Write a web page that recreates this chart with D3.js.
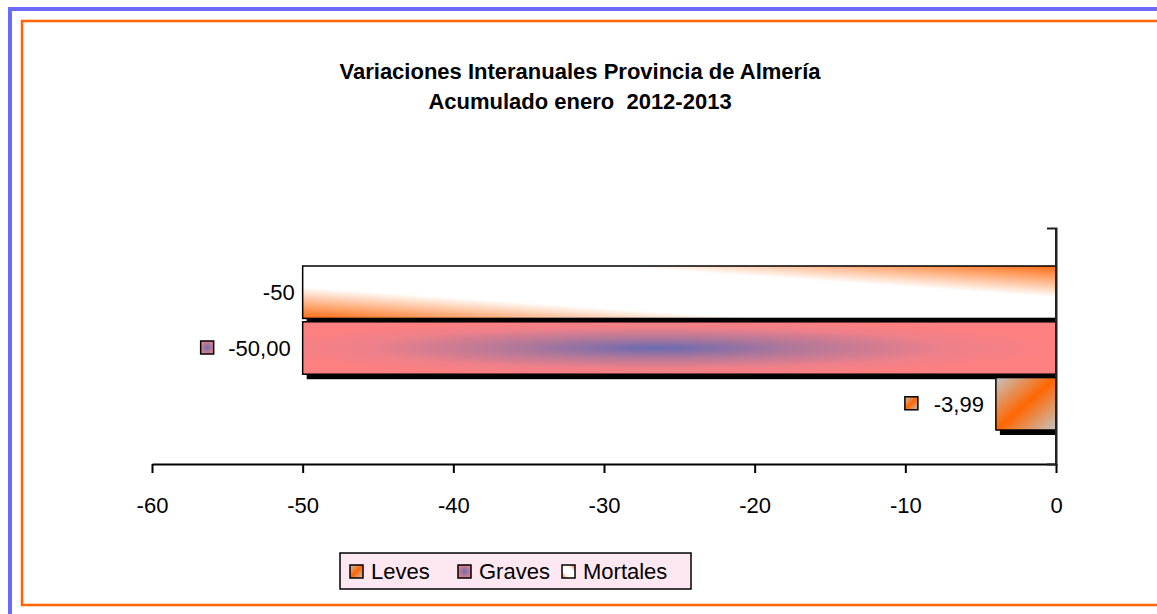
<!DOCTYPE html>
<html>
<head>
<meta charset="utf-8">
<title>Variaciones Interanuales Provincia de Almería</title>
<script src="https://d3js.org/d3.v7.min.js"></script>
<style>
  body { margin: 0; background: #fff; }
  text { font-family: Arial, "Liberation Sans", sans-serif; fill: #000; }
</style>
</head>
<body>
<div id="chart"></div>
<script>
// data
var series = ["Mortales", "Graves", "Leves"];
var values = [-50, -50.00, -3.99];
var valueLabels = ["-50", "-50,00", "-3,99"];
var labelKeys = [false, true, true];
var legendOrder = ["Leves", "Graves", "Mortales"];
var xTicks = [-60, -50, -40, -30, -20, -10, 0];
var titleLines = ["Variaciones Interanuales Provincia de Almería", "Acumulado enero  2012-2013"];

var width = 1157, height = 614;

var svg = d3.select("#chart").append("svg")
    .attr("width", width)
    .attr("height", height);

// gradients for each series
var defs = svg.append("defs");

var gLeves = defs.append("linearGradient").attr("id", "grad-Leves")
    .attr("x1", 0).attr("y1", 0).attr("x2", 1).attr("y2", 1);
gLeves.append("stop").attr("offset", 0).attr("stop-color", "#c4c4c4");
gLeves.append("stop").attr("offset", 0.5).attr("stop-color", "#ff6600");
gLeves.append("stop").attr("offset", 1).attr("stop-color", "#c4c4c4");

var gGraves = defs.append("radialGradient").attr("id", "grad-Graves")
    .attr("cx", 0.47).attr("cy", 0.5).attr("r", 0.55);
gGraves.append("stop").attr("offset", 0).attr("stop-color", "#6a6ab2");
gGraves.append("stop").attr("offset", 0.35).attr("stop-color", "#b47898");
gGraves.append("stop").attr("offset", 0.7).attr("stop-color", "#ee808a");
gGraves.append("stop").attr("offset", 1).attr("stop-color", "#ff8080");

var gKeyGraves = defs.append("radialGradient").attr("id", "grad-key-Graves")
    .attr("cx", 0.5).attr("cy", 0.5).attr("r", 0.6);
gKeyGraves.append("stop").attr("offset", 0).attr("stop-color", "#7070b0");
gKeyGraves.append("stop").attr("offset", 1).attr("stop-color", "#f08088");

var gMort = defs.append("linearGradient").attr("id", "grad-Mortales")
    .attr("x1", 0).attr("y1", 1).attr("x2", 1).attr("y2", 0);
gMort.append("stop").attr("offset", 0).attr("stop-color", "#ff6a10");
gMort.append("stop").attr("offset", 0.3).attr("stop-color", "#ffffff");
gMort.append("stop").attr("offset", 0.7).attr("stop-color", "#ffffff");
gMort.append("stop").attr("offset", 1).attr("stop-color", "#ff6a10");

function fillFor(s, key) {
  if (key && s == "Graves") return "url(#grad-key-Graves)";
  return "url(#grad-" + s + ")";
}

// frames
svg.append("rect")
    .attr("x", 10).attr("y", 9)
    .attr("width", width + 20).attr("height", height + 20)
    .attr("fill", "none").attr("stroke", "#6b6bff").attr("stroke-width", 4);
svg.append("rect")
    .attr("x", 22).attr("y", 21)
    .attr("width", width + 20).attr("height", 584)
    .attr("fill", "none").attr("stroke", "#ff6600").attr("stroke-width", 2.5);

// title
svg.append("g").selectAll("text")
    .data(titleLines)
    .enter().append("text")
    .attr("x", 580)
    .attr("y", function(d, i) { return 79 + i * 30; })
    .attr("text-anchor", "middle")
    .style("font-size", "22px")
    .style("font-weight", "bold")
    .style("white-space", "pre")
    .text(function(d) { return d; });

// scales
var x = d3.scaleLinear().domain([-60, 0]).range([152, 1056]);
var yCat = d3.scaleBand().domain(["enero"]).range([228, 464]);
var y = d3.scaleBand().domain(series).range([266, 430]).paddingInner(0.06);

// x axis
var xAxis = svg.append("g")
    .attr("transform", "translate(0," + yCat.range()[1] + ")")
    .call(d3.axisBottom(x).tickValues(xTicks).tickSize(9).tickSizeOuter(0).tickPadding(24)
      .tickFormat(function(d) { return String(d); }));
xAxis.select(".domain").attr("stroke", "#000").attr("stroke-width", 2);
xAxis.selectAll(".tick line").attr("stroke", "#000").attr("stroke-width", 2);
xAxis.selectAll(".tick text").style("font-size", "22px").style("font-family", "Arial, 'Liberation Sans', sans-serif").attr("fill", "#000");

// category axis at zero
var yAxis = svg.append("g")
    .attr("transform", "translate(" + x(0) + ",0)")
    .call(d3.axisLeft(yCat).tickValues([]).tickSizeOuter(9));
yAxis.select(".domain").attr("stroke", "#222").attr("stroke-width", 2);

// shadows
svg.append("g").selectAll("rect")
    .data(series)
    .enter().append("rect")
    .attr("x", function(d, i) { return x(values[i]) + 4; })
    .attr("y", function(d) { return y(d) + 5; })
    .attr("width", function(d, i) { return x(0) - x(values[i]) - 4; })
    .attr("height", y.bandwidth())
    .attr("fill", "#000");

// bars
svg.append("g").selectAll("rect")
    .data(series)
    .enter().append("rect")
    .attr("x", function(d, i) { return x(values[i]); })
    .attr("y", function(d) { return y(d); })
    .attr("width", function(d, i) { return x(0) - x(values[i]); })
    .attr("height", y.bandwidth())
    .attr("fill", function(d) { return fillFor(d); })
    .attr("stroke", "#000")
    .attr("stroke-width", 1.5);

// redraw axis line on top
svg.append("line")
    .attr("x1", x(0)).attr("x2", x(0))
    .attr("y1", yCat.range()[0]).attr("y2", yCat.range()[1])
    .attr("stroke", "#222").attr("stroke-width", 2);

// data labels
var labels = svg.append("g").selectAll("g")
    .data(series)
    .enter().append("g");
labels.append("text")
    .attr("x", function(d, i) { return x(values[i]) - (labelKeys[i] ? 12 : 8); })
    .attr("y", function(d) { return y(d) + y.bandwidth() / 2; })
    .attr("dy", "0.36em")
    .attr("text-anchor", "end")
    .style("font-size", "22px")
    .text(function(d, i) { return valueLabels[i]; });
labels.filter(function(d, i) { return labelKeys[i]; })
    .append("rect")
    .attr("x", function(d) { var i = series.indexOf(d); return x(values[i]) - 102; })
    .attr("y", function(d) { return y(d) + y.bandwidth() / 2 - 7; })
    .attr("width", 13).attr("height", 13)
    .attr("fill", function(d) { return fillFor(d, true); })
    .attr("stroke", "#000").attr("stroke-width", 1.5);
labels.filter(function(d) { return d == "Leves"; }).select("rect")
    .attr("x", function(d) { var i = series.indexOf(d); return x(values[i]) - 91; });

// legend
var legend = svg.append("g").attr("transform", "translate(340,553)");
legend.append("rect")
    .attr("width", 351).attr("height", 36)
    .attr("fill", "#fde8f1").attr("stroke", "#000").attr("stroke-width", 1.5);
var legendX = [10, 118, 222];
var items = legend.selectAll("g.item")
    .data(legendOrder)
    .enter().append("g").attr("class", "item")
    .attr("transform", function(d, i) { return "translate(" + legendX[i] + ",0)"; });
items.append("rect")
    .attr("x", 0).attr("y", 12).attr("width", 13).attr("height", 13)
    .attr("fill", function(d) { return fillFor(d, true); })
    .attr("stroke", "#000").attr("stroke-width", 1.5);
items.append("text")
    .attr("x", 21).attr("y", 18).attr("dy", "0.36em")
    .style("font-size", "22px")
    .text(function(d) { return d; });
</script>
</body>
</html>
